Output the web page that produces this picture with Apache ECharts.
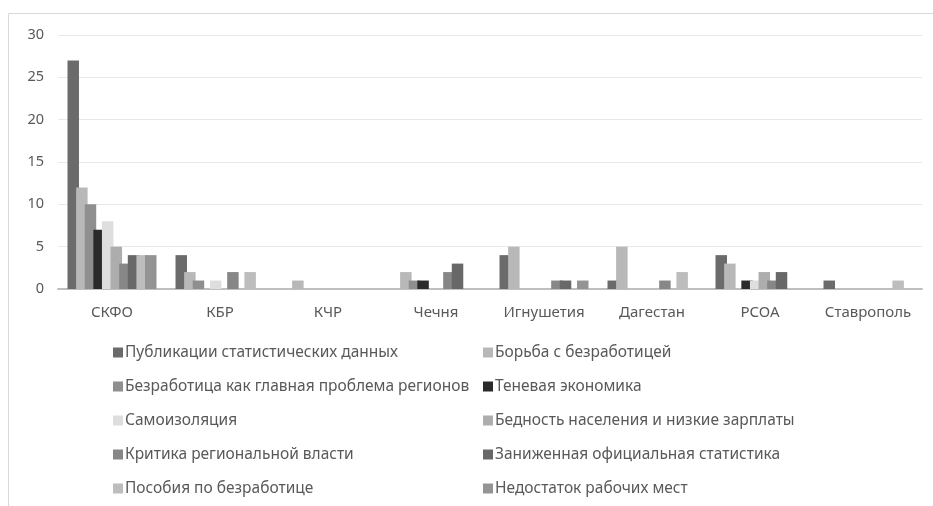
<!DOCTYPE html>
<html><head><meta charset="utf-8">
<script src="https://cdn.jsdelivr.net/npm/echarts@6/dist/echarts.min.js"></script>
<style>html,body{margin:0;padding:0;background:#fff}#c{width:933px;height:506px}</style>
</head><body><div id="c"></div>
<script>
const categories = ['СКФО','КБР','КЧР','Чечня','Игнушетия','Дагестан','РСОА','Ставрополь'];
const seriesNames = [
  'Публикации статистических данных',
  'Борьба с безработицей',
  'Безработица как главная проблема регионов',
  'Теневая экономика',
  'Самоизоляция',
  'Бедность населения и низкие зарплаты',
  'Критика региональной власти',
  'Заниженная официальная статистика',
  'Пособия по безработице',
  'Недостаток рабочих мест'
];
const publikatsii   = [27, 4, 0, 0, 4, 1, 4, 1];
const borba         = [12, 2, 1, 2, 5, 5, 3, 0];
const bezrabotitsa  = [10, 1, 0, 1, 0, 0, 0, 0];
const tenevaya      = [7, 0, 0, 1, 0, 0, 1, 0];
const samoizolyatsia= [8, 1, 0, 0, 0, 0, 1, 0];
const bednost       = [5, 0, 0, 0, 0, 0, 2, 0];
const kritika       = [3, 2, 0, 2, 1, 1, 1, 0];
const zanizhennaya  = [4, 0, 0, 3, 1, 0, 2, 0];
const posobiya      = [4, 2, 0, 0, 0, 2, 0, 1];
const nedostatok    = [4, 0, 0, 0, 1, 0, 0, 0];
const yTicks = [0, 5, 10, 15, 20, 25, 30];

const allData = [publikatsii, borba, bezrabotitsa, tenevaya, samoizolyatsia, bednost, kritika, zanizhennaya, posobiya, nedostatok];
const colors = ['#6b6b6b','#b8b8b8','#8f8f8f','#2b2b2b','#dedede','#adadad','#878787','#686868','#bdbdbd','#949494'];

const font = '"Noto Sans", sans-serif';
const chart = echarts.init(document.getElementById('c'));
const legendCommon = {
  orient: 'vertical', icon: 'rect', itemWidth: 10, itemHeight: 10, itemGap: 13,
  top: 342, height: 200, padding: 0,
  textStyle: {fontFamily: font, fontSize: 15.5, color: '#595959', lineHeight: 21, padding:[0,0,0,-3]}
};
chart.setOption({
  animation: false,
  color: colors,
  graphic: [{type:'rect', shape:{x:8.5, y:13.5, width:940, height:520}, style:{fill:'none', stroke:'#d9d9d9', lineWidth:1}, silent:true}],
  grid: {left: 58, right: 11, top: 35, bottom: 217},
  legend: [
    Object.assign({left: 113, data: [seriesNames[0], seriesNames[2], seriesNames[4], seriesNames[6], seriesNames[8]]}, legendCommon),
    Object.assign({left: 483, data: [seriesNames[1], seriesNames[3], seriesNames[5], seriesNames[7], seriesNames[9]]}, legendCommon)
  ],
  xAxis: {
    type: 'category', data: categories,
    axisLine: {lineStyle: {color: '#bfbfbf', width: 2}},
    axisTick: {show: false},
    axisLabel: {interval: 0, fontFamily: font, fontSize: 15, color: '#595959', margin: 16}
  },
  yAxis: {
    type: 'value', min: yTicks[0], max: yTicks[yTicks.length-1], interval: 5,
    axisLine: {show: false}, axisTick: {show: false},
    splitLine: {lineStyle: {color: '#e8e8e8'}},
    axisLabel: {fontFamily: font, fontSize: 14.5, color: '#595959', margin: 14}
  },
  series: allData.map((d, i) => ({
    name: seriesNames[i], type: 'bar', data: d,
    barGap: '-25%', barCategoryGap: '17.6%',
    itemStyle: {color: colors[i]}
  }))
});
</script></body></html>
